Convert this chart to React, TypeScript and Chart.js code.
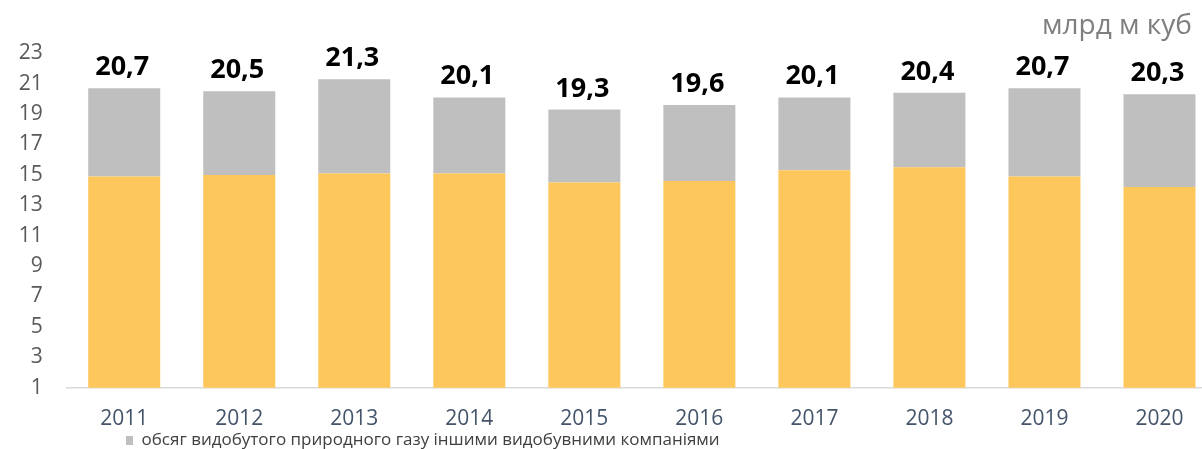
import React, { useEffect, useRef } from "react";
import { Chart, registerables } from "chart.js";

Chart.register(...registerables);

const years = ["2011", "2012", "2013", "2014", "2015", "2016", "2017", "2018", "2019", "2020"];
const ugvValues = [14.9, 15.0, 15.1, 15.1, 14.5, 14.6, 15.3, 15.5, 14.9, 14.2];
const otherValues = [5.8, 5.5, 6.2, 5.0, 4.8, 5.0, 4.8, 4.9, 5.8, 6.1];
const yTicks = [1, 3, 5, 7, 9, 11, 13, 15, 17, 19, 21, 23];
const unitLabel = "млрд м куб";
const ugvLabel = "обсяг видобутого природного газу АТ «Укргазвидобування»";
const otherLabel = "обсяг видобутого природного газу іншими видобувними компаніями";

const FONT = "'Open Sans', 'DejaVu Sans', sans-serif";

const totalsPlugin = {
  id: "totalsLabels",
  afterDatasetsDraw(chart: any) {
    const ctx = chart.ctx;
    const last = chart.getDatasetMeta(chart.data.datasets.length - 1);
    ctx.save();
    ctx.font = `bold 27px ${FONT}`;
    ctx.fillStyle = "#000000";
    ctx.textAlign = "center";
    ctx.textBaseline = "alphabetic";
    last.data.forEach((el: any, i: number) => {
      const total = ugvValues[i] + otherValues[i];
      const txt = total.toFixed(1).replace(".", ",");
      ctx.fillText(txt, el.x - 2, el.y - 13);
    });
    ctx.restore();
  },
  afterDraw(chart: any) {
    const ctx = chart.ctx;
    ctx.save();
    ctx.font = `28px ${FONT}`;
    ctx.fillStyle = "#7f7f7f";
    ctx.textAlign = "right";
    ctx.textBaseline = "alphabetic";
    ctx.fillText(unitLabel, 1192, 34);
    ctx.restore();
  },
};

const legendPlacePlugin = {
  id: "legendPlace",
  afterLayout(chart: any) {
    const lg = chart.legend;
    if (lg) {
      lg.left = 122;
      lg.top = 428;
    }
  },
};

export default function App() {
  const ref = useRef<HTMLCanvasElement | null>(null);

  useEffect(() => {
    document.body.style.margin = "0";
    const canvas = ref.current;
    if (!canvas) return;
    const chart = new Chart(canvas, {
      type: "bar",
      data: {
        labels: years,
        datasets: [
          {
            label: ugvLabel,
            data: ugvValues,
            backgroundColor: "#FEC75B",
            borderWidth: 0,
            categoryPercentage: 1,
            barPercentage: 0.626,
          },
          {
            label: otherLabel,
            data: otherValues,
            backgroundColor: "#BFBFBF",
            borderWidth: 0,
            categoryPercentage: 1,
            barPercentage: 0.626,
          },
        ],
      },
      options: {
        responsive: false,
        animation: false,
        devicePixelRatio: 1,
        layout: { padding: { top: 53.3, left: 0, right: 0, bottom: -20 } },
        plugins: {
          title: { display: false },
          tooltip: { enabled: false },
          legend: {
            display: true,
            position: "bottom",
            align: "start",
            labels: {
              filter: (item: any) => item.datasetIndex === 1,
              boxWidth: 7,
              boxHeight: 9,
              padding: 4,
              color: "#404040",
              font: { family: FONT, size: 17 },
            },
          },
        },
        scales: {
          x: {
            stacked: true,
            offset: true,
            grid: { display: false, drawTicks: false },
            border: { display: true, color: "#D9D9D9", width: 1.5 },
            ticks: {
              color: "#44546A",
              padding: 19,
              font: { family: FONT, size: 21 },
              maxRotation: 0,
              autoSkip: false,
            },
            afterFit: (scale: any) => {
              scale.height = 50.3;
            },
          },
          y: {
            stacked: true,
            min: 1,
            max: 23,
            grid: { display: false, drawTicks: false },
            border: { display: false },
            afterBuildTicks: (scale: any) => {
              scale.ticks = yTicks.map((v) => ({ value: v }));
            },
            ticks: {
              color: "#595959",
              padding: 24,
              font: { family: FONT, size: 21 },
            },
            afterFit: (scale: any) => {
              scale.width = 66.7;
            },
          },
        },
      },
      plugins: [totalsPlugin, legendPlacePlugin],
    });
    return () => chart.destroy();
  }, []);

  return (
    <div style={{ position: "absolute", left: 0, top: 0, width: 1202, height: 449, overflow: "hidden", background: "#ffffff" }}>
      <canvas ref={ref} width={1217} height={449} style={{ display: "block" }} />
    </div>
  );
}
